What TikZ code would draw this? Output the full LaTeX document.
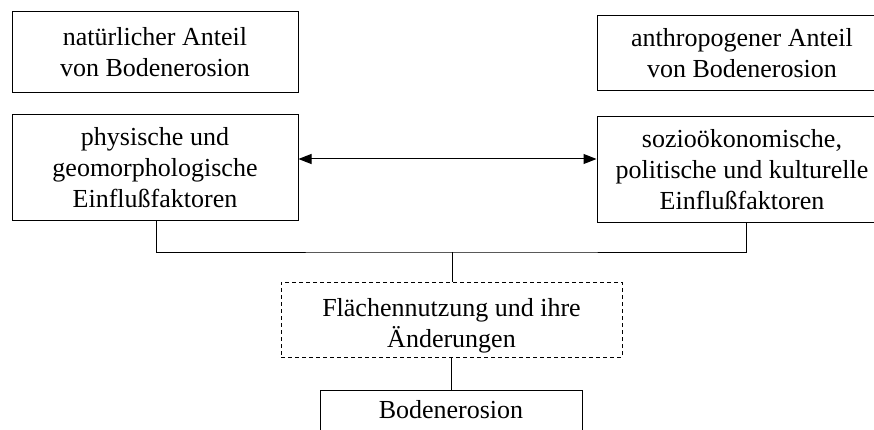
\documentclass[tikz,border=0pt]{standalone}
\usepackage{fontspec}
\setmainfont{Liberation Serif}
\usetikzlibrary{arrows.meta}

\begin{document}
\begin{tikzpicture}[x=1pt, y=-1pt,
    every node/.style={font=\fontsize{26}{31}\selectfont, align=center, inner sep=0pt},
    box/.style={draw, line width=1pt, rectangle},
    dashbox/.style={draw, line width=1pt, rectangle, dash pattern=on 4pt off 3pt},
    link/.style={line width=1pt},
    twohead/.style={line width=1pt, {Triangle[length=13pt,width=10pt]}-{Triangle[length=13pt,width=10pt]}}]

  % picture frame
  \useasboundingbox (0,0) rectangle (874,430);
  \clip (0,0) rectangle (874,430);

  % left column
  \node[box, minimum width=286pt, minimum height=81pt] (nat) at (155,52.5)
    {natürlicher Anteil\\von Bodenerosion};
  \node[box, minimum width=286pt, minimum height=105pt] (phys) at (155,167.5)
    {physische und\\geomorphologische\\Einflußfaktoren};

  % right column (boxes run past the right edge)
  \node[box, minimum width=290pt, minimum height=75pt] (anth) at (742,53.5)
    {anthropogener Anteil\\von Bodenerosion};
  \node[box, minimum width=290pt, minimum height=105pt] (socio) at (742,169.5)
    {sozioökonomische,\\politische und kulturelle\\Einflußfaktoren};

  % land use and its changes, text set a little below the centre
  \node[dashbox, minimum width=341pt, minimum height=75pt,
        label={[yshift=-6pt]center:{Flächennutzung und ihre\\Änderungen}}] (land) at (451.5,319.5) {};

  % soil erosion (open towards the bottom edge)
  \node[box, anchor=north, minimum width=262pt, text height=28pt, text depth=32pt] (boden) at (451,390)
    {Bodenerosion};

  % connectors
  \coordinate (arrowy) at (0,159);
  \coordinate (bus) at (452,252);
  \draw[twohead] (phys.east |- arrowy) -- (socio.west |- arrowy);
  \draw[link] ([xshift=1pt]phys.south) |- (bus) -| ([xshift=4pt]socio.south);
  \draw[link] (bus) -- (land.north -| bus);
  \draw[link] (land.south -| boden.north) -- (boden.north);
\end{tikzpicture}
\end{document}
